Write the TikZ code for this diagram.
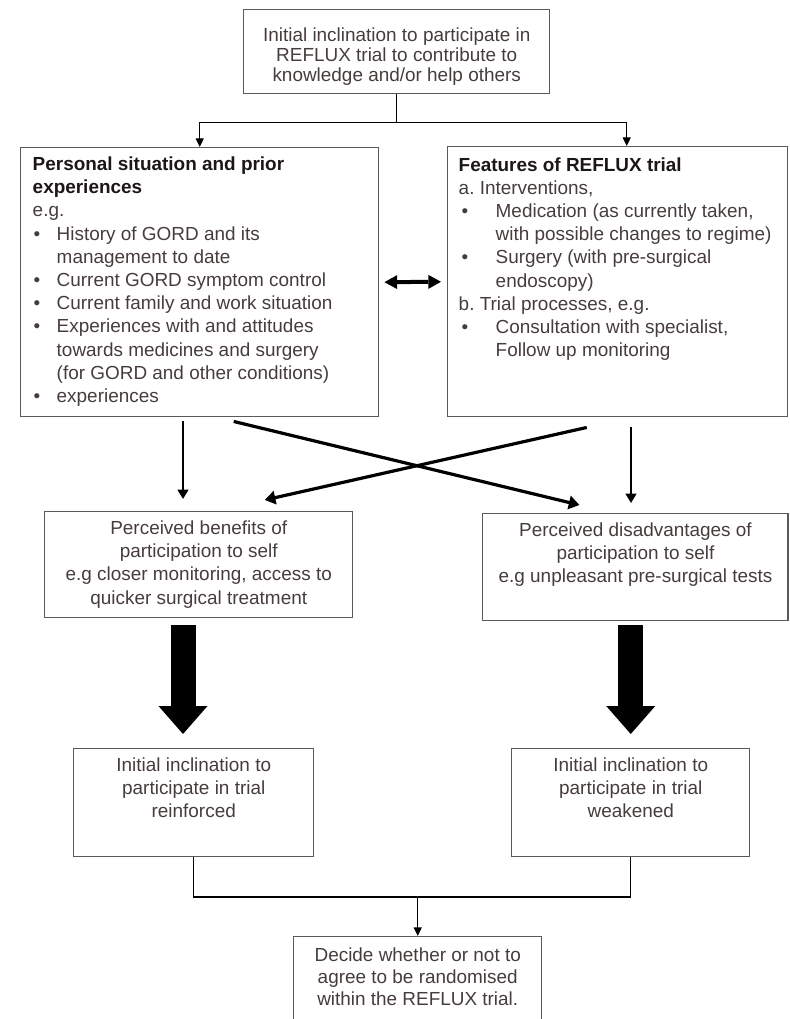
\documentclass[tikz,border=0pt]{standalone}
\usepackage{fontspec}
\setmainfont{Liberation Sans}
\usepackage{tikz}
\usetikzlibrary{arrows.meta,calc}

\definecolor{txtgray}{RGB}{70,60,60}
\definecolor{boxgray}{RGB}{90,90,90}
\definecolor{headblack}{RGB}{28,22,26}

\frenchspacing
\newcommand{\bodyfont}{\fontsize{14.2pt}{17.4pt}\selectfont}
\newcommand{\pitem}[3]{\par\hangindent=#2\hangafter=1\noindent\makebox[#2][l]{\hspace{#1}\textbullet}#3\par}
\newcommand{\boxtext}[3]{\parbox[t][#2][t]{#1}{#3}}

\begin{document}
\begin{tikzpicture}[x=0.75pt, y=-0.75pt,
    box/.style={draw=boxgray, line width=1.1pt, rectangle, inner xsep=0pt, inner ysep=6.75pt,
                text=txtgray, font=\bodyfont, anchor=north west},
    link/.style={black, line width=1pt},
    linkarrow/.style={link, -{Triangle[width=6pt, length=6.5pt]}},
    downarrow/.style={black, line width=1.6pt, -{Triangle[width=8pt, length=7pt]}},
    crossarrow/.style={black, line width=2.4pt, -{Triangle[width=10pt, length=8pt]}},
    twoway/.style={black, line width=3pt,
                {Triangle[width=10.5pt, length=9.5pt, line width=0pt]}-{Triangle[width=10.5pt, length=9.5pt, line width=0pt]}},
    fatarrow/.style={black, line width=18.75pt, -{Triangle[width=36.75pt, length=21pt, line width=0pt]}}]

    \useasboundingbox (0,0) rectangle (789,1019);
    \clip (0,0) rectangle (789,1019);

    % --- Top: initial inclination ---
    \node[box, inner ysep=13.5pt] (intent) at (243,9) {\boxtext{229.5pt}{36pt}{\centering\fontsize{14.2pt}{15.2pt}\selectfont
        Initial inclination to participate in\\ REFLUX trial to contribute to\\ knowledge and/or help others}};

    % --- Middle row: personal situation and trial features ---
    \node[box, inner xsep=9pt] (personal) at (20,147) {\boxtext{250.5pt}{188.25pt}{\raggedright
        {\color{headblack}\bfseries Personal situation and prior\newline experiences}\par
        e.g.\par
        \pitem{0.75pt}{18pt}{History of GORD and its\newline management to date}
        \pitem{0.75pt}{18pt}{Current GORD symptom control}
        \pitem{0.75pt}{18pt}{Current family and work situation}
        \pitem{0.75pt}{18pt}{Experiences with and attitudes\newline towards medicines and surgery\newline (for GORD and other conditions)}
        \pitem{0.75pt}{18pt}{experiences}}};

    \node[box, inner xsep=8.25pt, inner ysep=8pt] (features) at (447,146) {\boxtext{238.5pt}{186.5pt}{\raggedright
        {\color{headblack}\bfseries Features of REFLUX trial}\par
        a. Interventions,\par
        \pitem{2.25pt}{27.75pt}{Medication (as currently taken,\newline with possible changes to regime)}
        \pitem{2.25pt}{27.75pt}{Surgery (with pre-surgical\newline endoscopy)}
        b. Trial processes, e.g.\par
        \pitem{2.25pt}{27.75pt}{Consultation with specialist,\newline Follow up monitoring}}};

    % --- Perceived benefits / disadvantages ---
    \node[box] (benefits) at (44,511) {\boxtext{231pt}{66pt}{\centering
        Perceived benefits of\\ participation to self\\ e.g closer monitoring, access to\\ quicker surgical treatment}};
    \node[box] (disadv) at (482,513) {\boxtext{229.1pt}{66.75pt}{\centering
        Perceived disadvantages of\\ participation to self\\ e.g unpleasant\ pre-surgical tests}};

    % --- Inclination reinforced / weakened ---
    \node[box] (reinforced) at (73,748) {\boxtext{180pt}{67.5pt}{\centering
        Initial inclination\ to\\ participate in trial\\ reinforced}};
    \node[box] (weakened) at (511,748) {\boxtext{178.5pt}{67.5pt}{\centering
        Initial inclination\ to\\ participate in trial\\ weakened}};

    % --- Final decision ---
    \node[box, inner ysep=8.25pt] (final) at (293,936) {\boxtext{186pt}{50.25pt}{\centering\fontsize{14.2pt}{16.6pt}\selectfont
        Decide whether or not to\\ agree to\ be randomised\\ within the REFLUX trial.}};

    % --- Connectors ---
    \coordinate (split) at ($(intent.south)+(0,28)$);
    \draw[link] (intent.south) -- (split);
    \draw[linkarrow] (split) -| (personal.north);
    \draw[linkarrow] (split) -| ($(features.north)+(9,0)$);

    \draw[twoway, shorten <=3.75pt, shorten >=4.5pt] (personal.east) -- (features.west);

    \coordinate (lcol) at (183,0);
    \coordinate (rcol) at (631,0);
    \draw[downarrow, shorten <=3pt, shorten >=9pt] (personal.south -| lcol) -- (benefits.north -| lcol);
    \draw[downarrow, shorten <=7.5pt, shorten >=7.5pt] (features.south -| rcol) -- (disadv.north -| rcol);

    % crossing influences
    \draw[crossarrow] ($(personal.south)+(34,4)$) -- ($(disadv.north)+(-56,-8)$);
    \draw[crossarrow] ($(features.south)+(-31,10)$) -- ($(benefits.north)+(66,-11)$);

    % block arrows
    \draw[fatarrow, shorten <=5.25pt, shorten >=10.5pt] (benefits.south -| lcol) -- (reinforced.north -| lcol);
    \draw[fatarrow, shorten <=3pt, shorten >=10.5pt] (disadv.south -| weakened.north) -- (weakened.north);

    % merge into decision
    \coordinate (merge) at ($(final.north)+(0,-39)$);
    \draw[link] (reinforced.south) |- (merge) -| (weakened.south);
    \draw[linkarrow] (merge) -- (final.north);

\end{tikzpicture}
\end{document}
